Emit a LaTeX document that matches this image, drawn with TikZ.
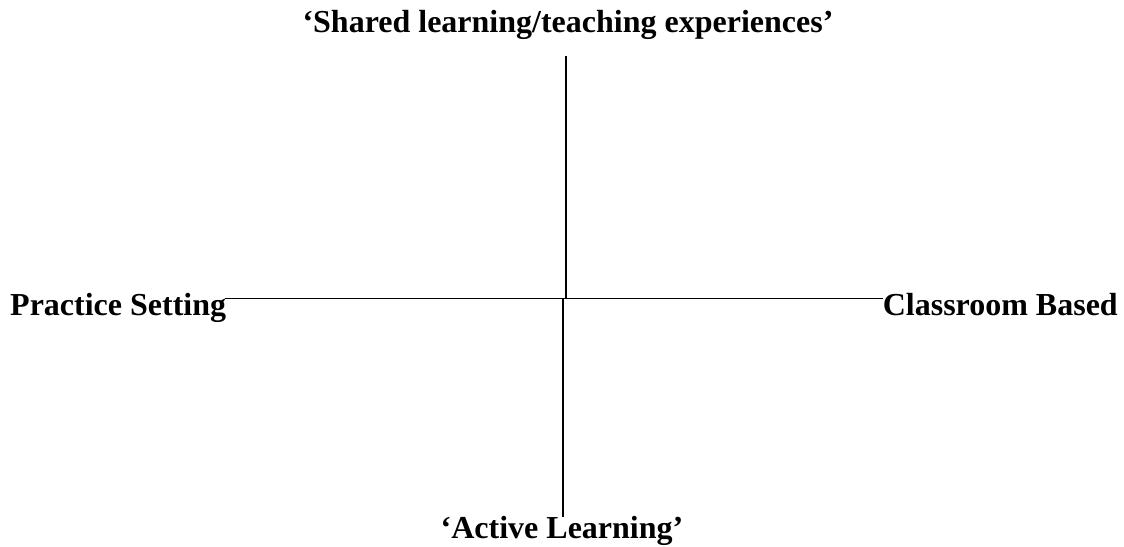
\documentclass[tikz,border=0pt]{standalone}
\usepackage{fontspec}
\setmainfont{Liberation Serif}
\begin{document}
\begin{tikzpicture}[x=1pt,y=-1pt,
  axis/.style={draw=black,line width=1.2pt},
  lbl/.style={inner sep=0pt,font=\fontsize{32}{36}\selectfont\bfseries}]
\useasboundingbox (0,0) rectangle (1124,546);
% axis labels, placed by their baselines
\node[lbl,anchor=base] (top) at (568,32) {‘Shared learning/teaching experiences’};
\node[lbl,anchor=base] (bot) at (562,538) {‘Active Learning’};
\node[lbl,anchor=base west] (left) at (10,315) {Practice Setting};
\node[lbl,anchor=base east] (right) at (1118,315) {Classroom Based};
% axis end points
\coordinate (vtop) at (566,56);
\coordinate (vmid) at (566,298);
\coordinate (vmidb) at (563,298);
\coordinate (vbot) at (563,517);
\coordinate (hl) at (225,298.5);
\coordinate (hr) at (883,298.5);
\draw[axis] (vtop) -- (vmid);
\draw[axis] (vmidb) -- (vbot);
\draw[axis] (hl) -- (hr);
\end{tikzpicture}
\end{document}
